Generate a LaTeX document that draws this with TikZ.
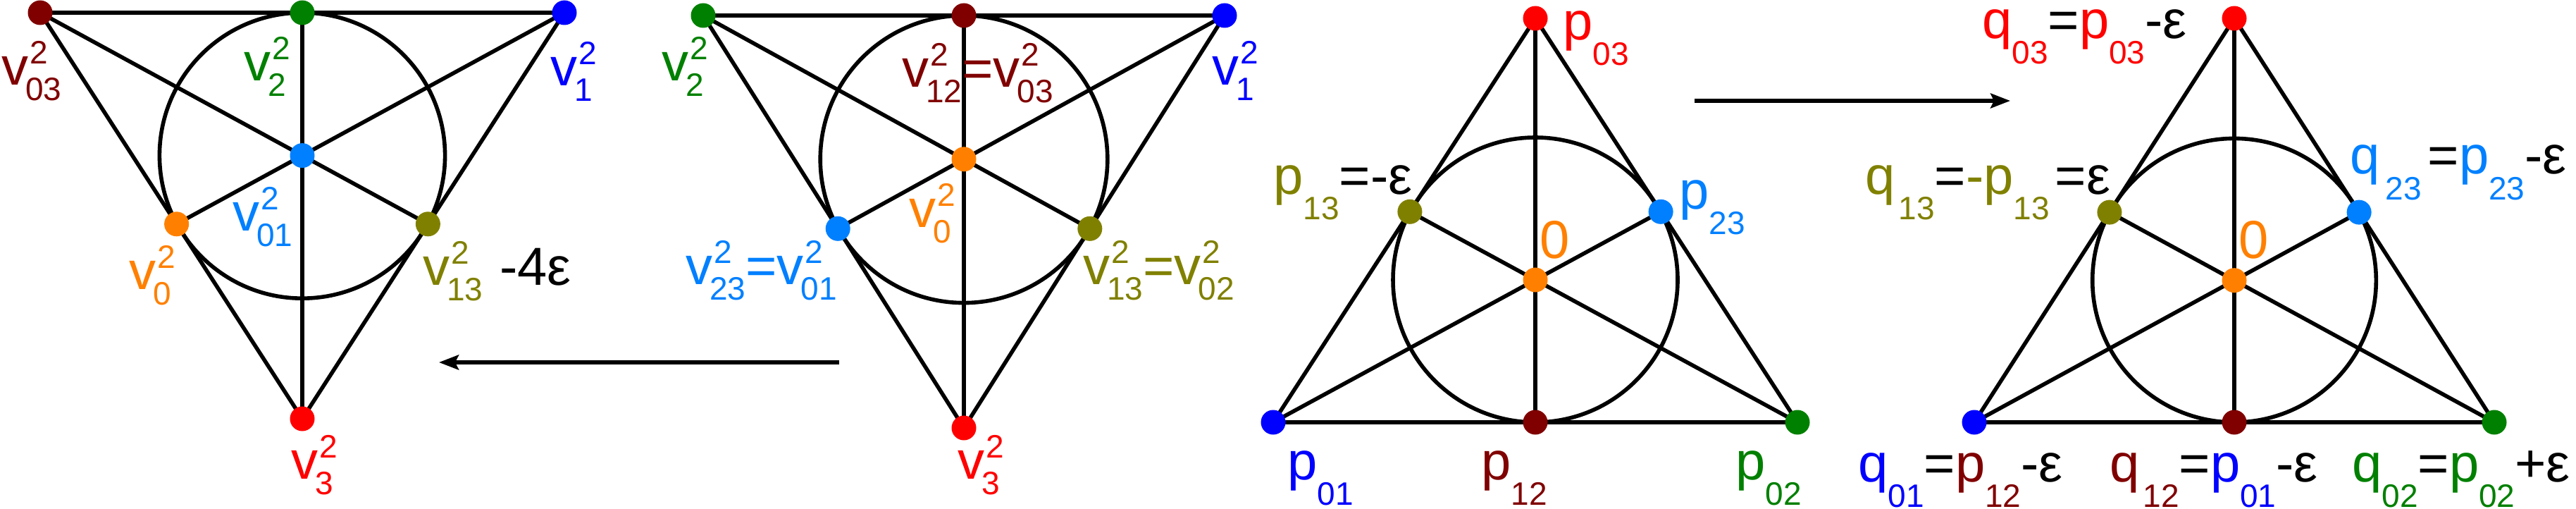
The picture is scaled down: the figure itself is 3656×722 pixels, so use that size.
\documentclass[tikz,border=0pt]{standalone}
\usepackage{fontspec}
\setmainfont{Liberation Sans}
\usetikzlibrary{arrows.meta}
\definecolor{cDR}{HTML}{800000}
\definecolor{cG}{HTML}{008000}
\definecolor{cB}{HTML}{0000FF}
\definecolor{cLB}{HTML}{0080FF}
\definecolor{cO}{HTML}{FF8000}
\definecolor{cOl}{HTML}{808000}
\definecolor{cR}{HTML}{FF0000}
\newcommand\subf{\fontsize{46}{46}\selectfont}
\newcommand\mainf{\fontsize{76}{80}\selectfont}
\newcommand\VSS[2]{\kern-4pt\rlap{\kern6pt\raisebox{30pt}{\subf #1}}\raisebox{-22pt}{\subf #2}}
\newcommand\Sb[1]{\raisebox{-36pt}{\subf #1}}
\newcommand\bk[1]{\textcolor{black}{#1}}
\begin{document}
\begin{tikzpicture}[x=1pt,y=-1pt,
  edge/.style={line width=5.6pt, line cap=round, line join=round},
  dot/.style={circle, inner sep=0pt, minimum size=35pt},
  lab/.style={anchor=base west, inner sep=0pt, font=\mainf},
  conn/.style={line width=5.2pt, -{Stealth[length=28pt,width=21pt,inset=5pt]}}]
\useasboundingbox (0,0) rectangle (3656,722);

% ---------- diagram 1 ----------
\coordinate (a1) at (57,18);
\coordinate (b1) at (801,18);
\coordinate (c1) at (429,594);
\coordinate (m1) at (429,18);
\coordinate (l1) at (250.6,317.8);
\coordinate (r1) at (607.4,317.8);
\coordinate (o1) at (429,220.6);
\draw[edge] (a1) -- (b1) -- (c1) -- cycle;
\draw[edge] (a1) -- (r1);
\draw[edge] (b1) -- (l1);
\draw[edge] (m1) -- (c1);
\draw[edge] (o1) circle[radius=202.6pt];
\node[dot, fill=cDR] (d1a) at (a1) {};
\node[dot, fill=cB] (d1b) at (b1) {};
\node[dot, fill=cR] (d1c) at (c1) {};
\node[dot, fill=cG] (d1m) at (m1) {};
\node[dot, fill=cO] (d1l) at (l1) {};
\node[dot, fill=cOl] (d1r) at (r1) {};
\node[dot, fill=cLB] (d1o) at (o1) {};
\node[lab, text=cDR] (t1a) at (2,121) {v\VSS{2}{03}};
\node[lab, text=cG] (t1m) at (346,115) {v\VSS{2}{2}};
\node[lab, text=cB] (t1b) at (781,122) {v\VSS{2}{1}};
\node[lab, text=cLB] (t1o) at (330,327) {v\VSS{2}{01}};
\node[lab, text=cO] (t1l) at (183,410) {v\VSS{2}{0}};
\node[lab, text=cOl] (t1r) at (600,404) {v\VSS{2}{13}\kern24pt\bk{-4ε}};
\node[lab, text=cR] (t1c) at (413,679) {v\VSS{2}{3}};

% ---------- arrow left ----------
\coordinate (al1) at (1191,514);
\coordinate (al2) at (623,514);
\draw[conn] (al1) -- (al2);

% ---------- diagram 2 ----------
\coordinate (a2) at (998,22);
\coordinate (b2) at (1738,22);
\coordinate (c2) at (1368,607);
\coordinate (m2) at (1368,22);
\coordinate (l2) at (1189.2,324.3);
\coordinate (r2) at (1546.8,324.3);
\coordinate (o2) at (1368,225.8);
\draw[edge] (a2) -- (b2) -- (c2) -- cycle;
\draw[edge] (a2) -- (r2);
\draw[edge] (b2) -- (l2);
\draw[edge] (m2) -- (c2);
\draw[edge] (o2) circle[radius=203.8pt];
\node[dot, fill=cG] (d2a) at (a2) {};
\node[dot, fill=cB] (d2b) at (b2) {};
\node[dot, fill=cR] (d2c) at (c2) {};
\node[dot, fill=cDR] (d2m) at (m2) {};
\node[dot, fill=cLB] (d2l) at (l2) {};
\node[dot, fill=cOl] (d2r) at (r2) {};
\node[dot, fill=cO] (d2o) at (o2) {};
\node[lab, text=cG] (t2a) at (939,115) {v\VSS{2}{2}};
\node[lab, text=cDR] (t2m) at (1280,124) {v\VSS{2}{12}=v\VSS{2}{03}};
\node[lab, text=cB] (t2b) at (1720,121) {v\VSS{2}{1}};
\node[lab, text=cO] (t2o) at (1290,322) {v\VSS{2}{0}};
\node[lab, text=cLB] (t2l) at (973,403) {v\VSS{2}{23}=v\VSS{2}{01}};
\node[lab, text=cOl] (t2r) at (1537,403) {v\VSS{2}{13}=v\VSS{2}{02}};
\node[lab, text=cR] (t2c) at (1359,679) {v\VSS{2}{3}};

% ---------- diagram 3 ----------
\coordinate (a3) at (2179,26);
\coordinate (b3) at (1807,599);
\coordinate (c3) at (2551,599);
\coordinate (m3) at (2179,599);
\coordinate (l3) at (2000.9,300.3);
\coordinate (r3) at (2357.1,300.3);
\coordinate (o3) at (2179,397);
\draw[edge] (a3) -- (b3) -- (c3) -- cycle;
\draw[edge] (b3) -- (r3);
\draw[edge] (c3) -- (l3);
\draw[edge] (a3) -- (m3);
\draw[edge] (o3) circle[radius=202pt];
\node[dot, fill=cR] (d3a) at (a3) {};
\node[dot, fill=cB] (d3b) at (b3) {};
\node[dot, fill=cG] (d3c) at (c3) {};
\node[dot, fill=cDR] (d3m) at (m3) {};
\node[dot, fill=cOl] (d3l) at (l3) {};
\node[dot, fill=cLB] (d3r) at (r3) {};
\node[dot, fill=cO] (d3o) at (o3) {};
\node[lab, text=cR] (t3a) at (2218,57) {p\Sb{03}};
\node[lab, text=cOl] (t3l) at (1807,275) {p\Sb{13}\bk{=-ε}};
\node[lab, text=cLB] (t3r) at (2383,296) {p\Sb{23}};
\node[lab, text=cO] (t3o) at (2185,366) {0};
\node[lab, text=cB] (t3b) at (1827,680) {p\Sb{01}};
\node[lab, text=cDR] (t3m) at (2102,680) {p\Sb{12}};
\node[lab, text=cG] (t3c) at (2463,680) {p\Sb{02}};

% ---------- arrow right ----------
\coordinate (ar1) at (2405,143);
\coordinate (ar2) at (2853,143);
\draw[conn] (ar1) -- (ar2);

% ---------- diagram 4 ----------
\coordinate (a4) at (3171,26);
\coordinate (b4) at (2802,599);
\coordinate (c4) at (3540,599);
\coordinate (m4) at (3171,599);
\coordinate (l4) at (2993.9,301.1);
\coordinate (r4) at (3348.1,301.1);
\coordinate (o4) at (3171,397.7);
\draw[edge] (a4) -- (b4) -- (c4) -- cycle;
\draw[edge] (b4) -- (r4);
\draw[edge] (c4) -- (l4);
\draw[edge] (a4) -- (m4);
\draw[edge] (o4) circle[radius=201.3pt];
\node[dot, fill=cR] (d4a) at (a4) {};
\node[dot, fill=cB] (d4b) at (b4) {};
\node[dot, fill=cG] (d4c) at (c4) {};
\node[dot, fill=cDR] (d4m) at (m4) {};
\node[dot, fill=cOl] (d4l) at (l4) {};
\node[dot, fill=cLB] (d4r) at (r4) {};
\node[dot, fill=cO] (d4o) at (o4) {};
\node[lab, text=cR] (t4a) at (2813,55) {q\Sb{03}\bk{=}p\Sb{03}\bk{-ε}};
\node[lab, text=cOl] (t4l) at (2647,275) {q\kern5pt\Sb{13}\bk{=}-p\Sb{13}\kern8pt\bk{=ε}};
\node[lab, text=cLB] (t4r) at (3335,247) {q\kern8pt\Sb{23}\kern9pt\bk{=}p\Sb{23}\bk{-ε}};
\node[lab, text=cO] (t4o) at (3177,366) {0};
\node[lab, text=cB] (t4b) at (2637,683) {q\Sb{01}\bk{=}\textcolor{cDR}{p\Sb{12}}\bk{-ε}};
\node[lab, text=cDR] (t4m) at (2994,683) {q\kern5pt\Sb{12}\bk{=}\textcolor{cB}{p\Sb{01}}\bk{-ε}};
\node[lab, text=cG] (t4c) at (3338,683) {q\Sb{02}\bk{=}p\Sb{02}\bk{+ε}};
\end{tikzpicture}
\end{document}
